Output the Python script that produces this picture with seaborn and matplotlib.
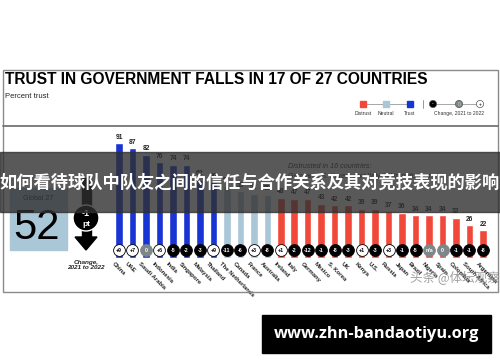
import matplotlib
matplotlib.use("Agg")
import matplotlib.pyplot as plt
import seaborn as sns
import pandas as pd
from matplotlib.patches import Rectangle, Circle, Polygon

countries = ["China", "UAE", "Saudi Arabia", "Indonesia", "India", "Singapore", "Malaysia",
             "Thailand", "The Netherlands", "Canada", "France", "Australia", "Ireland", "Italy",
             "Germany", "Mexico", "S. Korea", "UK", "Kenya", "U.S.", "Russia", "Japan", "Brazil",
             "Nigeria", "Spain", "Colombia", "South Africa", "Argentina"]
trust = [91, 87, 82, 76, 74, 74, 62, 60, 57, 53, 51, 50, 48, 47, 47, 43, 42, 42, 39, 39,
         37, 36, 34, 34, 34, 32, 26, 22]
change = ["+9", "+7", "0", "+6", "-5", "-2", "-3", "+9", "-11", "-6", "+3", "-8", "+1", "-2",
          "-12", "-1", "-8", "-3", "+1", "-3", "+3", "-1", "-5", "n/a", "0", "-1", "-1", "-8"]
level = ["Trust"] * 8 + ["Neutral"] * 4 + ["Distrust"] * 16
legend_labels = ["Distrust", "Neutral", "Trust"]
global_value = 52
global_change = "-1"

sns.set_style("white")
plt.rcParams['font.family'] = ['Liberation Sans', 'Noto Sans CJK SC', 'DejaVu Sans']

C_TRUST = "#1834d4"
C_NEUTRAL = "#a9c7d6"
C_DISTRUST = "#f2483a"
C_GRAY = "#7d8788"
palette = {"Trust": C_TRUST, "Neutral": C_NEUTRAL, "Distrust": C_DISTRUST}

W, H = 500, 362
fig = plt.figure(figsize=(5, 3.62), dpi=100)
fig.patch.set_facecolor("white")

def fx(px):
    return px / W

def fy(py):
    return 1 - py / H

# data axes
step = 13.48
left_px = 119 - 0.5 * step
base_px = 258
scale = 1.26
ax = fig.add_axes([fx(left_px), fy(base_px), 28 * step / W, 100 * scale / H])
df = pd.DataFrame({"country": countries, "trust": trust, "level": level})
sns.barplot(data=df, x="country", y="trust", hue="level", palette=palette, dodge=False,
            width=0.56, legend=False, ax=ax, saturation=1)
ax.set_xlim(-0.5, 27.5)
ax.set_ylim(0, 100)
ax.axis("off")

for i, (v, c, name) in enumerate(zip(trust, change, countries)):
    ax.text(i, v + 2, str(v), ha="center", va="bottom", fontsize=4.8, fontweight="bold",
            color="#222222")
    if c.startswith("-"):
        fc, tc, ec = "black", "white", "black"
    elif c.startswith("+"):
        fc, tc, ec = "white", "black", "black"
    else:
        fc, tc, ec = C_GRAY, "white", C_GRAY
    ax.scatter([i], [6.3], s=72, color=fc, edgecolors=ec, linewidths=0.6, zorder=5,
               clip_on=False)
    ax.text(i, 6.3, c, ha="center", va="center", fontsize=3.8, fontweight="bold", color=tc,
            zorder=6, clip_on=False)
    ax.text(i - 0.35, -2.8, name, rotation=-45, rotation_mode="anchor", ha="left", va="top",
            fontsize=4.3, fontweight="bold", color="#222222", clip_on=False)

# overlay axes in pixel coordinates
ov = fig.add_axes([0, 0, 1, 1])
ov.set_xlim(0, W)
ov.set_ylim(H, 0)
ov.axis("off")

# frames
ov.add_patch(Rectangle((3, 70), 495, 222, fill=False, edgecolor="#8a8a8a", linewidth=1.0))
ov.plot([3, 498], [126, 126], color="#6a6a6a", linewidth=1.2)

ov.text(5, 79, "TRUST IN GOVERNMENT FALLS IN 17 OF 27 COUNTRIES", fontsize=11.2,
        fontweight="bold", va="center", ha="left", color="black")
ov.text(5, 96, "Percent trust", fontsize=5.5, va="center", ha="left", color="#222222")

# legend
lx = [363, 386, 410]
ov.plot(lx, [104] * 3, color="#999999", linewidth=0.6, zorder=1)
for x, col, lab in zip(lx, [C_DISTRUST, C_NEUTRAL, C_TRUST], legend_labels):
    ov.add_patch(Rectangle((x - 3, 101), 6, 6, color=col, zorder=2))
    ov.text(x, 113.5, lab, fontsize=3.6, ha="center", va="center", color="#333333")
ov.plot([423, 423], [100, 108], color="#888888", linewidth=0.6)
cx = [433, 459, 480]
ov.plot(cx, [104] * 3, color="#999999", linewidth=0.6, zorder=1)
for x, fc, sym, tc in zip(cx, ["black", C_GRAY, "white"], ["-", "0", "+"],
                          ["white", "#cccccc", "black"]):
    ov.add_patch(Circle((x, 104), 3.6, facecolor=fc, edgecolor="#555555", linewidth=0.5,
                        zorder=2))
    ov.text(x, 104, sym, fontsize=3.6, ha="center", va="center", color=tc, zorder=3)
ov.text(459, 113.5, "Change, 2021 to 2022", fontsize=3.6, ha="center", va="center",
        color="#333333")

# global box
ov.add_patch(Rectangle((10, 188), 57, 62, color=C_NEUTRAL, zorder=1))
ov.text(38.5, 199, "Global 27", fontsize=5, ha="center", va="center", color="#333333",
        zorder=2)
ov.text(37, 228, str(global_value), fontsize=30, ha="center", va="center", color="black",
        zorder=2)

# arrow
ov.add_patch(Rectangle((82, 178), 9, 62, color="black", zorder=1))
ov.add_patch(Polygon([[75, 237], [97, 237], [86, 250]], closed=True, color="black", zorder=1))
ov.add_patch(Circle((86, 218), 13, facecolor="black", edgecolor="white", linewidth=1.0,
                    zorder=2))
ov.text(86, 214, global_change, fontsize=6.5, ha="center", va="center", color="white",
        fontweight="bold", zorder=3)
ov.text(86, 224, "pt", fontsize=6, ha="center", va="center", color="white",
        fontweight="bold", zorder=3)
ov.text(86, 265, "Change,\n2021 to 2022", fontsize=4.6, ha="center", va="center",
        fontweight="bold", style="italic", color="#222222", linespacing=1.2)

# annotation
ov.text(288, 167, "Distrusted in 16 countries:", fontsize=5.2, style="italic", ha="left",
        va="center", color="#333333")
ov.text(288, 176, "Germany, S. Korea, and Italy fall into distrust", fontsize=5.2,
        style="italic", ha="left", va="center", color="#333333")

# overlay banner
ov.add_patch(Rectangle((0, 152), 500, 60, color="#2f2f2f", alpha=0.8, zorder=10))
ov.text(250, 183, "如何看待球队中队友之间的信任与合作关系及其对竞技表现的影响", fontsize=12.4,
        fontweight="bold", ha="center", va="center", color="white", zorder=11,
        family=["Noto Sans CJK SC", "DejaVu Sans"])

# watermark
ov.text(455, 277, "头条 @体坛观察", fontsize=9, ha="center", va="center", color="#777777",
        alpha=0.7, zorder=11, family=["Noto Sans CJK SC", "DejaVu Sans"])

# url box
ov.add_patch(Rectangle((262, 315), 229, 38, color="black", zorder=10))
ov.text(376.5, 334, "www.zhn-bandaotiyu.org", fontsize=11.8, fontweight="bold",
        ha="center", va="center", color="white", zorder=11,
        family=["Open Sans", "DejaVu Sans"])

fig.savefig("out.png", dpi=100)
